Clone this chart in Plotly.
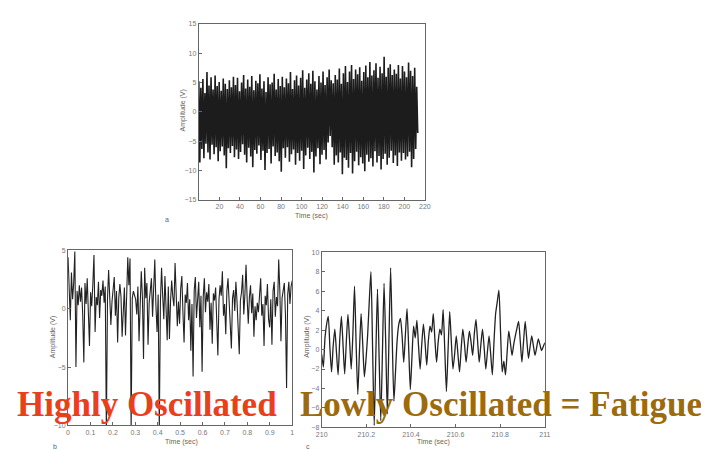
import numpy as np
import plotly.graph_objects as go

W, H = 709, 450

# ---------------- data ----------------
a_values = [
    5.2, -8.6, 4.1, -6.3, 5.6, -7.9, 3.2, -5.4, 6.8, -6.9, 4.5, -8.1,
    5.9, -5.6, 3.8, -7.2, 6.2, -6.0, 4.4, -8.4, 5.1, -6.7, 3.6, -5.9,
    5.7, -7.4, 4.8, -9.6, 3.9, -6.2, 5.4, -7.0, 4.2, -5.8, 6.0, -7.7,
    4.6, -6.4, 5.8, -8.0, 3.5, -6.8, 5.0, -5.5, 6.3, -7.3, 4.0, -8.6,
    5.5, -6.1, 4.3, -7.6, 6.1, -9.4, 3.7, -6.5, 5.3, -7.1, 4.9, -5.7,
    6.4, -8.2, 4.0, -6.6, 5.2, -9.9, 3.4, -7.0, 5.9, -6.3, 4.7, -8.8,
    5.0, -5.9, 6.5, -7.5, 3.8, -6.9, 5.6, -8.4, 4.4, -10.2, 6.0, -6.2,
    4.2, -7.8, 5.7, -6.0, 4.9, -8.5, 6.8, -7.2, 3.9, -6.4, 5.4, -9.0,
    6.2, -7.0, 4.5, -8.3, 5.8, -6.6, 7.1, -9.7, 4.1, -7.4, 5.5, -6.1,
    6.6, -8.0, 4.8, -6.8, 7.0, -10.3, 5.2, -7.6, 3.8, -6.2, 6.1, -8.9,
    5.0, -7.3, 6.9, -6.5, 4.6, -8.1, 5.9, -5.2, 7.2, -4.1, 5.4, -6.0,
    4.9, -9.0, 6.3, -7.4, 5.5, -8.6, 7.4, -6.9, 4.8, -10.6, 6.6, -7.8,
    7.8, -8.2, 5.1, -9.5, 6.9, -7.0, 8.0, -10.5, 5.6, -8.4, 7.2, -6.8,
    6.4, -9.1, 7.6, -7.7, 5.3, -8.8, 6.8, -10.1, 7.9, -7.3, 5.9, -8.5,
    8.5, -7.9, 6.2, -9.3, 7.1, -6.7, 8.3, -8.6, 5.8, -7.5, 7.7, -9.8,
    6.6, -8.0, 9.4, -7.1, 6.0, -9.0, 7.5, -7.8, 8.1, -6.6, 6.3, -8.7,
    7.2, -7.4, 6.5, -9.2, 8.0, -6.9, 5.7, -8.3, 7.8, -7.0, 6.9, -8.1,
    5.9, -7.6, 8.4, -6.8, 7.0, -9.4, 6.1, -8.0, 7.5, -6.3, 4.3, -3.6,
]
a_t_end = 213.0

b_values = [
    4.4, 1.2, -1.0, 3.1, 0.8, 2.2, 4.9, -5.0, 1.5, 0.3,
    2.0, 0.6, 1.8, -0.5, -4.6, 2.2, 0.4, 2.6, -1.2, -3.2,
    1.4, 0.2, 2.1, 4.6, -2.0, 1.0, 0.3, 2.3, -0.8, 1.6,
    1.1, 2.4, 0.5, 1.9, -10.5, 0.8, 3.3, 1.2, -1.4, 0.6,
    2.0, 2.7, -0.6, 1.5, -2.9, 0.9, 2.1, 1.0, -2.4, 0.7,
    1.8, -2.3, 0.4, 4.4, 2.0, 4.3, -10.5, 0.9, 1.5, 1.1,
    0.8, -0.5, 1.9, -2.8, 0.6, 3.2, 1.0, -4.3, 3.5, 0.9,
    2.2, -3.1, 0.5, 1.4, 2.6, -0.7, 1.8, 4.2, 0.3, -2.0,
    1.2, -10.5, 0.6, 3.5, 1.1, -0.9, 2.8, 0.4, -2.7, 1.9,
    -2.6, 0.7, 2.4, 1.0, 0.2, 3.9, 1.3, -1.5, 0.6, -1.3,
    1.7, 2.8, -0.4, -2.9, 1.2, 0.5, 2.2, -1.0, 0.8, -3.6,
    0.4, -5.8, 1.6, 2.7, -0.8, 0.9, 2.3, -1.6, 1.1, -5.4,
    1.0, 2.6, -0.3, 1.4, 0.6, 2.1, -1.8, 0.5, -3.0, 1.3,
    0.7, 1.8, -0.9, -4.0, 0.8, 2.0, 1.1, 3.2, -0.6, 0.4,
    -2.2, 1.5, 2.6, 0.3, -0.8, -3.4, 0.9, 1.6, -0.2, 2.3,
    0.6, -1.1, -3.9, 0.7, 1.4, 2.9, -0.5, 1.2, 3.75, 0.8,
    -1.3, 1.0, 2.0, -0.4, 1.3, -2.4, 0.2, -1.0, 0.5, -0.3,
    0.9, 2.6, -0.6, 0.4, -3.2, 1.1, 0.3, 2.1, -0.9, -1.6,
    0.8, -3.1, 1.5, 2.3, -0.7, 1.0, 0.2, 4.2, 1.6, -2.8,
    0.9, 1.4, 2.2, -0.5, -6.8, 1.2, 2.3, 0.4, 1.9, 2.4,
]

c_values = [
    -0.5, -1.8, 1.2, 2.6, 3.4, 0.2, -2.3, 0.4, 2.1, -0.3,
    -2.6, 1.0, 3.4, 0.5, -2.5, 0.8, 3.6, 0.9, -2.0, 1.6,
    6.5, 0.4, -4.6, -0.2, 3.7, 0.6, -2.8, -1.0, 1.5, 5.0,
    8.0, 0.3, -7.8, -0.5, 6.2, -0.9, -7.3, -0.4, 6.8, 0.8,
    -6.6, 1.2, 8.4, 1.0, -5.3, -2.2, 1.0, 2.6, 3.2, 1.4,
    -1.3, 1.5, 4.2, 0.2, -4.1, -0.8, 2.4, 1.2, 3.0, 0.4,
    -2.0, 0.6, 2.6, 0.7, -1.6, 0.9, 2.4, 1.8, 3.7, 1.0,
    -1.3, 0.8, 2.1, 1.5, 4.1, 0.0, -4.3, -0.1, 3.9, 0.8,
    -2.0, -0.5, 1.4, -0.4, -2.3, 0.1, 2.1, 0.6, -1.3, 0.4,
    1.9, 0.8, -0.6, 1.6, 3.1, 0.9, -1.3, 0.5, 2.1, 0.2,
    -2.0, -0.2, 1.4, -0.5, -2.6, 0.8, 3.7, 4.9, 6.1, 1.8,
    -2.3, -1.2, -2.6, -0.3, 1.9, 0.7, -0.6, 0.5, 1.4, 2.2,
    2.9, 0.9, -1.3, 0.8, 2.9, 1.0, -0.9, 0.3, 1.4, 0.4,
    -0.6, 0.2, 1.1, 0.5, -0.1, 0.3, 0.7,
]
c_t_start, c_t_end = 210.0, 211.0

a_xticks = [20, 40, 60, 80, 100, 120, 140, 160, 180, 200, 220]
a_yticks = [-15, -10, -5, 0, 5, 10, 15]
b_xticks = [0, 0.1, 0.2, 0.3, 0.4, 0.5, 0.6, 0.7, 0.8, 0.9, 1]
b_xlabels = ["0", "0.1", "0.2", "0.3", "0.4", "0.5", "0.6", "0.7", "0.8", "0.9", "1"]
b_yticks = [-10, -5, 0, 5]
c_xticks = [210, 210.2, 210.4, 210.6, 210.8, 211]
c_xlabels = ["210", "210.2", "210.4", "210.6", "210.8", "211"]
c_yticks = [-8, -6, -4, -2, 0, 2, 4, 6, 8, 10]

a_t = np.linspace(0, a_t_end, len(a_values))
b_t = np.linspace(0, 1, len(b_values))
c_t = np.linspace(c_t_start, c_t_end, len(c_values))

# ---------------- helpers ----------------
def px(x):
    return x / W

def py(y):
    return 1 - y / H

fig = go.Figure()
fig.add_trace(go.Scatter(x=a_t, y=a_values, mode="lines", xaxis="x", yaxis="y",
                         line=dict(color="#1c1c1c", width=1.6), showlegend=False))
fig.add_trace(go.Scatter(x=b_t, y=b_values, mode="lines", xaxis="x2", yaxis="y2",
                         line=dict(color="#222222", width=1.1), showlegend=False))
fig.add_trace(go.Scatter(x=c_t, y=c_values, mode="lines", xaxis="x3", yaxis="y3",
                         line=dict(color="#222222", width=1.3, shape="spline", smoothing=0.6),
                         showlegend=False))

axis_common = dict(showline=True, mirror=True, linecolor="#666666", linewidth=1,
                   ticks="inside", ticklen=3, tickcolor="#666666", showgrid=False,
                   zeroline=False, tickfont=dict(family="Liberation Sans", size=7, color="#777777"))

fig.update_layout(
    width=W, height=H, margin=dict(l=0, r=0, t=0, b=0),
    paper_bgcolor="white", plot_bgcolor="white", showlegend=False,
    xaxis=dict(domain=[px(188), px(418)], range=[0, 220], tickvals=a_xticks, anchor="y", **axis_common),
    yaxis=dict(domain=[py(191), py(12)], range=[-15, 15], tickvals=a_yticks, anchor="x", **axis_common),
    xaxis2=dict(domain=[px(55), px(283)], range=[0, 1], tickvals=b_xticks, ticktext=b_xlabels, anchor="y2", **axis_common),
    yaxis2=dict(domain=[py(420), py(242)], range=[-10, 5], tickvals=b_yticks, anchor="x2", **axis_common),
    xaxis3=dict(domain=[px(313), px(540)], range=[210, 211], tickvals=c_xticks, ticktext=c_xlabels, anchor="y3", **axis_common),
    yaxis3=dict(domain=[py(422), py(244)], range=[-8, 10], tickvals=c_yticks, anchor="x3", **axis_common),
)

small = dict(family="Liberation Sans", size=7, color="#666666")
texts = [
    ("Time (sec)", 303, 207, 0), ("Amplitude (V)", 172, 100, -90), ("a", 156, 211, 0),
    ("Time (sec)", 170, 437, 0), ("Amplitude (V)", 40, 330, -90), ("b", 42, 441, 0),
    ("Time (sec)", 427, 437, 0), ("Amplitude (V)", 298, 330, -90), ("c", 299, 441, 0),
]
for t, x, y, ang in texts:
    fig.add_annotation(text=t, x=px(x), y=py(y), xref="paper", yref="paper",
                       showarrow=False, textangle=ang, font=small,
                       xanchor="center", yanchor="middle")

big = dict(family="Liberation Serif", size=35, weight=700)
fig.add_annotation(text="Highly Oscillated", x=px(2), y=py(399), xref="paper", yref="paper",
                   showarrow=False, xanchor="left", yanchor="middle", borderpad=0,
                   font=dict(color="#e8401c", **big))
fig.add_annotation(text="Lowly Oscillated = Fatigue", x=px(290), y=py(399), xref="paper", yref="paper",
                   showarrow=False, xanchor="left", yanchor="middle", borderpad=0,
                   font=dict(color="#9a6b10", **big))

fig.write_html("out.html")
